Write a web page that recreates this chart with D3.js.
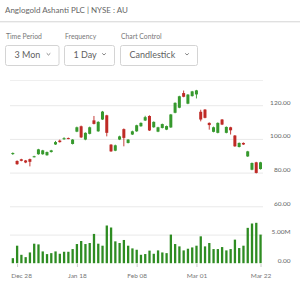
<!DOCTYPE html>
<html>
<head>
<meta charset="utf-8">
<script src="https://cdn.jsdelivr.net/npm/d3@7"></script>
<style>
  body { margin: 0; background: #fff; }
  svg { display: block; font-family: Lato, "Open Sans", sans-serif; }
</style>
</head>
<body>
<script>
'use strict';

// trading days shown on the chart
const dates = ["Dec 24","Dec 28","Dec 29","Dec 30","Dec 31","Jan 04","Jan 05","Jan 06","Jan 07","Jan 08",
  "Jan 11","Jan 12","Jan 13","Jan 14","Jan 15","Jan 19","Jan 20","Jan 21","Jan 22","Jan 25",
  "Jan 26","Jan 27","Jan 28","Jan 29","Feb 01","Feb 02","Feb 03","Feb 04","Feb 05","Feb 08",
  "Feb 09","Feb 10","Feb 11","Feb 12","Feb 16","Feb 17","Feb 18","Feb 19","Feb 22","Feb 23",
  "Feb 24","Feb 25","Feb 26","Mar 01","Mar 02","Mar 03","Mar 04","Mar 05","Mar 08","Mar 09",
  "Mar 10","Mar 11","Mar 12","Mar 15","Mar 16","Mar 17","Mar 18","Mar 19","Mar 22"];

const opens = [91.0,86.9,87.9,87.2,88.0,89.2,90.9,90.9,90.3,92.2,
  96.7,99.0,99.8,100.5,97.0,104.3,107.5,99.6,103.0,111.0,
  104.5,111.5,114.0,96.6,93.0,99.6,105.8,97.6,102.6,104.5,
  107.5,110.9,113.6,106.9,104.3,106.5,105.5,106.8,115.5,118.5,
  127.2,120.9,125.4,126.4,116.1,117.4,109.5,104.2,103.6,111.5,
  103.6,106.9,102.0,95.2,97.6,89.6,81.7,86.1,82.1];

const highs = [92.0,87.3,88.2,87.5,88.3,90.0,94.1,93.5,92.5,93.5,
  98.8,99.6,101.0,100.8,99.9,107.3,107.9,103.9,107.3,113.6,
  110.5,116.6,114.3,96.9,96.6,101.9,106.2,99.9,104.9,108.4,
  109.8,113.7,114.0,110.4,107.2,109.1,107.9,114.8,121.7,125.6,
  128.7,126.6,128.5,129.1,117.3,117.7,109.8,107.3,109.8,111.8,
  107.4,107.2,102.3,97.9,97.9,92.9,86.0,86.4,86.4];

const lows = [90.5,84.6,86.7,85.6,83.7,89.0,90.6,90.6,90.0,91.9,
  96.4,97.8,99.4,99.8,96.7,104.0,100.5,99.2,102.7,108.6,
  104.2,111.2,101.5,92.3,92.7,99.3,95.6,97.3,102.3,104.2,
  107.2,110.6,104.7,106.6,104.0,106.2,105.2,106.5,115.2,118.2,
  124.7,120.6,125.1,124.0,110.4,112.2,105.5,103.9,103.3,108.2,
  103.3,102.6,95.3,94.9,96.4,89.3,81.4,79.5,81.8];

const closes = [91.6,85.0,87.0,86.0,86.4,89.7,93.8,93.2,92.2,93.2,
  98.1,98.1,100.4,100.0,99.6,106.9,100.9,103.6,106.9,108.9,
  110.1,116.2,103.6,92.6,96.2,101.5,100.6,99.6,104.5,108.1,
  109.5,112.9,105.0,110.1,106.9,108.8,107.6,114.5,121.4,125.3,
  125.0,126.3,128.2,128.8,111.5,112.5,108.2,106.9,109.5,108.5,
  107.1,105.1,95.6,97.6,96.7,92.6,85.7,79.8,86.1];

// volume in millions
const volumes = [0.88,3.06,1.47,1.06,1.88,3.41,3.29,2.06,1.59,1.76,
  2.06,1.65,2.0,2.0,2.47,3.35,3.88,3.35,3.53,5.12,
  3.41,3.06,6.59,6.24,3.82,3.53,4.06,3.06,2.59,2.35,
  1.47,1.6,2.2,1.65,2.24,1.88,1.76,5.0,3.35,2.94,
  2.24,2.53,2.76,3.06,4.7,2.94,3.53,2.47,2.47,2.82,
  2.24,2.47,4.12,2.65,3.06,6.18,6.94,7.06,5.0];

const priceTicks = [60, 80, 100, 120];
const volumeTicks = [0, 5];
const volumeTickLabels = ["0.00", "5.00M"];
const dateTickAt = ["Dec 28", "Jan 19", "Feb 08", "Mar 01", "Mar 22"];
const dateTickLabels = ["Dec 28", "Jan 18", "Feb 08", "Mar 01", "Mar 22"];

const title = "Anglogold Ashanti PLC | NYSE : AU";
const controlLabels = ["Time Period", "Frequency", "Chart Control"];
const controlValues = ["3 Mon", "1 Day", "Candlestick"];

const UP = "#36992d", DOWN = "#bf2a26", VOL = "#2e8c22";
const TXT = "#666", GRID = "#e9e9e9";

const svg = d3.select('body').append('svg')
  .attr('width', 300)
  .attr('height', 283);

// ---- header ----
svg.append('text')
  .attr('x', 5).attr('y', 13)
  .attr('fill', TXT).style('font-size', '8px')
  .text(title);

svg.append('line').attr('x1', 0).attr('x2', 300).attr('y1', 21.5).attr('y2', 21.5)
  .attr('stroke', '#e0e0e0');
svg.append('line').attr('x1', 0).attr('x2', 300).attr('y1', 22.5).attr('y2', 22.5)
  .attr('stroke', '#f3f3f3');

// dropdown boxes
const boxX = [5.5, 64.5, 120.5];
const boxW = [53.5, 50, 77];
controlLabels.forEach((lab, i) => {
  svg.append('text')
    .attr('x', boxX[i] + 0.5).attr('y', 39)
    .attr('fill', '#777').style('font-size', '6.8px')
    .text(lab);
  svg.append('rect')
    .attr('x', boxX[i]).attr('y', 45.5)
    .attr('width', boxW[i]).attr('height', 20)
    .attr('rx', 2)
    .attr('fill', '#fff').attr('stroke', '#d4d4d4');
  svg.append('text')
    .attr('x', boxX[i] + 9).attr('y', 58.3)
    .attr('fill', '#5f5f5f').style('font-size', '9px')
    .text(controlValues[i]);
  let cx = boxX[i] + boxW[i] - 10.5;
  svg.append('path')
    .attr('d', `M${cx - 1.8},53.3L${cx},55L${cx + 1.8},53.3`)
    .attr('fill', 'none').attr('stroke', '#777').attr('stroke-width', 0.9);
});

svg.append('line').attr('x1', 10).attr('x2', 263).attr('y1', 80.5).attr('y2', 80.5)
  .attr('stroke', '#efefef');

// ---- scales ----
let x = d3.scalePoint()
  .domain(dates)
  .range([12.3, 260]);

let y = d3.scaleLinear()
  .domain([60, 120])
  .range([206.3, 105.2]);

let yVol = d3.scaleLinear()
  .domain([0, 5])
  .range([263.2, 234.6]);

// gridlines
function grid(scale, ticks) {
  let g = svg.append('g')
    .attr('transform', 'translate(10, 0)')
    .call(d3.axisRight(scale).tickValues(ticks).tickSize(253).tickFormat(''));
  g.select('.domain').remove();
  g.selectAll('line').attr('stroke', GRID);
}
grid(y, priceTicks);
grid(yVol, [5]);

// y labels, right aligned
function labels(scale, ticks, fmt) {
  let g = svg.append('g')
    .attr('transform', 'translate(290.5, 0)')
    .call(d3.axisLeft(scale).tickValues(ticks).tickSize(0).tickPadding(0).tickFormat(fmt));
  g.select('.domain').remove();
  g.selectAll('text')
    .attr('fill', TXT)
    .attr('dy', -1.2)
    .style('font-size', '6.5px')
    .style('font-family', 'Lato, sans-serif');
}
labels(y, priceTicks, d3.format('.2f'));
labels(yVol, volumeTicks, (d, i) => volumeTickLabels[i]);

// ---- candles ----
let candles = svg.append('g').selectAll('g')
  .data(dates)
  .enter()
  .append('g');

candles.append('line')
  .attr('x1', (d) => x(d) + 0.5)
  .attr('x2', (d) => x(d) + 0.5)
  .attr('y1', (d, i) => y(highs[i]))
  .attr('y2', (d, i) => y(lows[i]))
  .attr('stroke', (d, i) => closes[i] >= opens[i] ? UP : DOWN)
  .attr('stroke-width', 0.9);

candles.append('rect')
  .attr('x', (d) => x(d) - 1)
  .attr('y', (d, i) => y(Math.max(opens[i], closes[i])))
  .attr('width', 3)
  .attr('height', (d, i) => Math.max(1, Math.abs(y(opens[i]) - y(closes[i]))))
  .attr('fill', (d, i) => closes[i] >= opens[i] ? UP : DOWN);

// ---- volume ----
svg.append('g').selectAll('rect')
  .data(dates)
  .enter()
  .append('rect')
  .attr('x', (d) => x(d) - 0.6)
  .attr('y', (d, i) => yVol(volumes[i]))
  .attr('width', 2.3)
  .attr('height', (d, i) => yVol(0) - yVol(volumes[i]))
  .attr('fill', VOL);

// ---- x axis ----
let xAxis = svg.append('g')
  .attr('transform', 'translate(0.5, 264)')
  .call(d3.axisBottom(x).tickValues(dateTickAt).tickSize(3).tickPadding(6)
    .tickFormat((d, i) => dateTickLabels[i]));
xAxis.select('.domain').remove();
xAxis.selectAll('line').attr('stroke', '#c8c8c8');
xAxis.selectAll('text')
  .attr('fill', '#777')
  .style('font-size', '6.5px')
  .style('font-family', 'Lato, sans-serif')
  .attr('dx', (d, i) => i === 0 ? 4 : 0);
</script>
</body>
</html>
